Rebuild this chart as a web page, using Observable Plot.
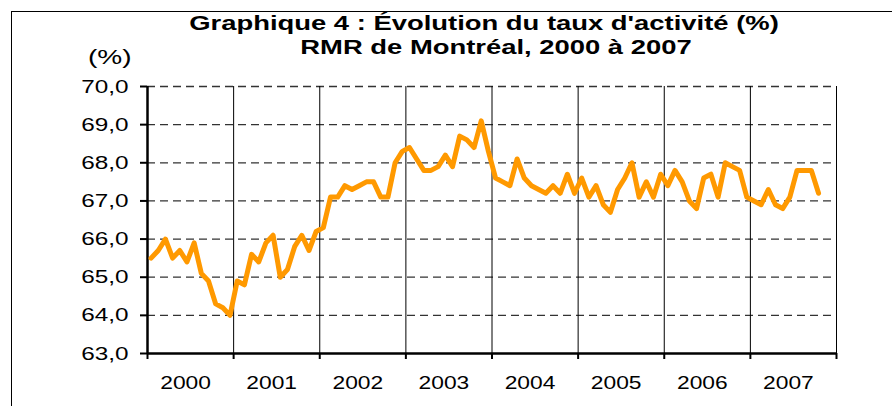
<!DOCTYPE html>
<html><head><meta charset="utf-8">
<script src="https://cdn.jsdelivr.net/npm/d3@7"></script>
<script src="https://cdn.jsdelivr.net/npm/@observablehq/plot@0.6"></script>
<style>
body{margin:0;background:#fff;}
#wrap{position:relative;width:892px;height:406px;overflow:hidden;font-family:"Liberation Sans",Arial,sans-serif;color:#000;}
#border{position:absolute;left:11px;top:11px;width:900px;height:420px;border:1px solid #000;}
#chart{position:absolute;left:0;top:0;}
.t{position:absolute;left:0;width:968px;text-align:center;font-weight:bold;font-size:20px;line-height:24px;transform:scaleX(1.37);transform-origin:484px 0;}
#unit{position:absolute;left:88px;top:45px;font-size:20px;line-height:24px;transform:scaleX(1.4);transform-origin:0 0;}
</style></head><body>
<div id="wrap">
<div id="border"></div>
<div id="chart"></div>
<div class="t" style="top:11px">Graphique 4 : Évolution du taux d'activité (%)</div>
<div class="t" style="top:35px;left:12px">RMR de Montréal, 2000 à 2007</div>
<div id="unit">(%)</div>
</div>
<script>
const years = ["2000","2001","2002","2003","2004","2005","2006","2007"];
const yTicks = [63,64,65,66,67,68,69,70];
const rate2000 = [65.5,65.7,66.0,65.5,65.7,65.4,65.9,65.1,64.9,64.3,64.2,64.0];
const rate2001 = [64.9,64.8,65.6,65.4,65.9,66.1,65.0,65.2,65.8,66.1,65.7,66.2];
const rate2002 = [66.3,67.1,67.1,67.4,67.3,67.4,67.5,67.5,67.1,67.1,68.0,68.3];
const rate2003 = [68.4,68.1,67.8,67.8,67.9,68.2,67.9,68.7,68.6,68.4,69.1,68.3];
const rate2004 = [67.6,67.5,67.4,68.1,67.6,67.4,67.3,67.2,67.4,67.2,67.7,67.2];
const rate2005 = [67.6,67.1,67.4,66.9,66.7,67.3,67.6,68.0,67.1,67.5,67.1,67.7];
const rate2006 = [67.4,67.8,67.5,67.0,66.8,67.6,67.7,67.1,68.0,67.9,67.8,67.1];
const rate2007 = [67.0,66.9,67.3,66.9,66.8,67.1,67.8,67.8,67.8,67.2];

const series = [rate2000,rate2001,rate2002,rate2003,rate2004,rate2005,rate2006,rate2007];
const data = [];
series.forEach((arr, y) => arr.forEach((v, m) => data.push({month: y*12 + m + 0.5, value: v})));
const nMonths = years.length * 12;
const yearStarts = d3.range(0, nMonths + 1, 12);
const yearMids = years.map((_, i) => i*12 + 6);

const chart = Plot.plot({
  width: 892, height: 406,
  marginLeft: 147, marginRight: 56, marginTop: 86, marginBottom: 53,
  x: {domain: [0, nMonths]},
  y: {domain: [63, 70]},
  style: {fontFamily: "'Liberation Sans', Arial, sans-serif", fontSize: "19px", color: "#000", background: "transparent"},
  marks: [
    Plot.ruleY(yTicks.filter(d => d > 63), {stroke: "#333", strokeWidth: 1.3, strokeDasharray: "8,5"}),
    Plot.ruleX(yearStarts.slice(1), {stroke: "#000", strokeWidth: 1}),
    Plot.axisY({ticks: yTicks, tickFormat: d => d.toFixed(1).replace(".", ","), tickSize: 7, tickPadding: 12, label: null, strokeWidth: 2}),
    Plot.axisX({ticks: yearStarts, tickSize: 6, tickFormat: () => "", label: null, strokeWidth: 2}),
    Plot.axisX({ticks: yearMids, tickSize: 0, tickFormat: d => years[(d - 6) / 12], tickPadding: 22, dx: -5, label: null}),
    Plot.ruleX([0], {stroke: "#000", strokeWidth: 2.5}),
    Plot.ruleY([63], {stroke: "#000", strokeWidth: 2.5}),
    Plot.line(data, {x: "month", y: "value", stroke: "#FF9900", strokeWidth: 5})
  ]
});
document.getElementById("chart").appendChild(chart);

// widen tick labels horizontally to match the stretched reference lettering
function stretch(selector, s, mode) {
  chart.querySelectorAll(selector + " text").forEach(el => {
    const b = el.getBBox();
    if (!b.width) return;
    const ax = mode === "end" ? b.x + b.width : b.x + b.width / 2;
    const cur = el.getAttribute("transform") || "";
    el.setAttribute("transform", `${cur} translate(${ax},0) scale(${s},1) translate(${-ax},0)`);
  });
}
stretch('g[aria-label="y-axis tick label"]', 1.28, "end");
stretch('g[aria-label="x-axis tick label"]', 1.2, "middle");
</script>
</body></html>
